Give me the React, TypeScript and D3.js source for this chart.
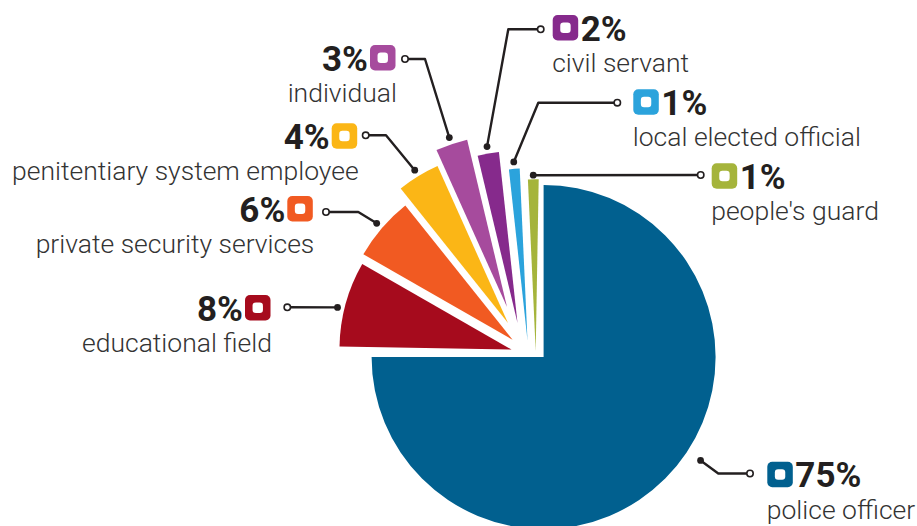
import { useEffect, useRef } from 'react';
import * as d3 from 'd3';

const categories = [
  'police officer',
  'educational field',
  'private security services',
  'penitentiary system employee',
  'individual',
  'civil servant',
  'local elected official',
  "people's guard",
];
const shares = [75, 8, 6, 4, 3, 2, 1, 1];
const colors = ['#01608f', '#a60b1d', '#f15a22', '#fbb616', '#a64b9d', '#862a8c', '#2ba3dc', '#a5b43b'];

// how far each wedge is pulled away from the pie centre (px)
const nudges: [number, number][] = [
  [0, 0],
  [-32.1, -7.5],
  [-31, -17.2],
  [-35.6, -34],
  [-36.6, -50],
  [-26.1, -34],
  [-16.1, -16.6],
  [-7.9, -5.8],
];

// label placement: marker box (mx,my), open circle (cx,cy), optional elbow, leader dot along wedge
interface LabelPos {
  side: 'left' | 'right';
  mx: number;
  my: number;
  cx: number;
  cy: number;
  elbow?: [number, number];
  at: number;
  dotR: number;
}
const labelPos: LabelPos[] = [
  { side: 'right', mx: 767.3, my: 461.7, cx: 750, cy: 473.5, elbow: [718.3, 473.5], at: 0.457, dotR: 188 },
  { side: 'left', mx: 245, my: 295, cx: 287.3, cy: 307.3, at: 0.4375, dotR: 179 },
  { side: 'left', mx: 287.3, my: 196, cx: 326, cy: 212, elbow: [358.3, 212], at: 0.5, dotR: 179 },
  { side: 'left', mx: 331.7, my: 123.3, cx: 365.7, cy: 135.3, elbow: [386, 135.3], at: 0.5, dotR: 179 },
  { side: 'left', mx: 370, my: 45, cx: 405, cy: 59, elbow: [425, 59], at: 0.5, dotR: 179 },
  { side: 'right', mx: 552.7, my: 15, cx: 540.7, cy: 29.3, elbow: [508.3, 29.3], at: 0.5, dotR: 179 },
  { side: 'right', mx: 633.3, my: 89.3, cx: 617.3, cy: 102.7, elbow: [538.3, 102.7], at: 0.5, dotR: 179 },
  { side: 'right', mx: 711.7, my: 163.3, cx: 700.7, cy: 175, at: 0.5, dotR: 176 },
];

const WIDTH = 917;
const HEIGHT = 526;

export default function App() {
  const svgRef = useRef<SVGSVGElement>(null);

  useEffect(() => {
    if (!svgRef.current) return;
    const svg = d3.select(svgRef.current);
    svg.selectAll('*').remove();

    const center = { x: 543.6, y: 357 };
    const bigR = 172;
    const smallR = 172;
    const tilt = (1 * Math.PI) / 180; // small wedges are turned a hair clockwise

    const data = categories.map((c, i) => ({ name: c, value: shares[i], color: colors[i] }));
    const pie = d3
      .pie<typeof data[0]>()
      .sort(null)
      .value(d => d.value)
      .startAngle(0)
      .endAngle(Math.PI * 2);
    const arcs = pie(data).map((a, i) => {
      const t = i === 0 ? 0 : tilt;
      return { ...a, startAngle: a.startAngle + t, endAngle: a.endAngle + t };
    });

    const arcGen = d3.arc<any>().innerRadius(0);

    const g = svg.append('g');

    arcs.forEach((a, i) => {
      const ox = center.x + nudges[i][0];
      const oy = center.y + nudges[i][1];
      g.append('path')
        .attr('transform', `translate(${ox},${oy})`)
        .attr('d', arcGen.outerRadius(i === 0 ? bigR : smallR)(a) as string)
        .attr('fill', a.data.color);
    });

    // leaders + labels
    const ink = '#231f20';
    arcs.forEach((a, i) => {
      const lp = labelPos[i];
      const ox = center.x + nudges[i][0];
      const oy = center.y + nudges[i][1];
      const ang = a.startAngle + (a.endAngle - a.startAngle) * lp.at;
      const dot: [number, number] = [ox + lp.dotR * Math.sin(ang), oy - lp.dotR * Math.cos(ang)];
      const pts: [number, number][] = [dot];
      if (lp.elbow) pts.push(lp.elbow);
      pts.push([lp.cx, lp.cy]);

      g.append('path')
        .attr('d', d3.line()(pts) as string)
        .attr('fill', 'none')
        .attr('stroke', ink)
        .attr('stroke-width', 2.4)
        .attr('stroke-linejoin', 'round');
      g.append('circle').attr('cx', dot[0]).attr('cy', dot[1]).attr('r', 3.4).attr('fill', ink);
      g.append('circle')
        .attr('cx', lp.cx)
        .attr('cy', lp.cy)
        .attr('r', 3.2)
        .attr('fill', '#fff')
        .attr('stroke', ink)
        .attr('stroke-width', 1.6);

      const box = 25.5;
      g.append('rect')
        .attr('x', lp.mx)
        .attr('y', lp.my)
        .attr('width', box)
        .attr('height', box)
        .attr('rx', 5)
        .attr('fill', a.data.color);
      g.append('rect')
        .attr('x', lp.mx + box / 2 - 5.2)
        .attr('y', lp.my + box / 2 - 5.2)
        .attr('width', 10.4)
        .attr('height', 10.4)
        .attr('rx', 3.2)
        .attr('fill', '#fff');

      const left = lp.side === 'left';
      g.append('text')
        .attr('x', left ? lp.mx - 2 : lp.mx + box + 2.5)
        .attr('y', lp.my + box)
        .attr('text-anchor', left ? 'end' : 'start')
        .attr('font-family', 'Roboto, sans-serif')
        .attr('font-weight', 700)
        .attr('font-size', 35)
        .attr('fill', ink)
        .text(`${a.data.value}%`);
      g.append('text')
        .attr('x', left ? lp.mx + box + 1.5 : lp.mx - 0.5)
        .attr('y', lp.my + 57)
        .attr('text-anchor', left ? 'end' : 'start')
        .attr('font-family', 'Roboto, sans-serif')
        .attr('font-weight', 300)
        .attr('font-size', 26.5)
        .attr('fill', '#333')
        .text(a.data.name);
    });
  }, []);

  return (
    <div style={{ position: 'absolute', left: 0, top: 0 }}>
      <svg ref={svgRef} width={WIDTH} height={HEIGHT} style={{ display: 'block', background: '#fff' }}></svg>
    </div>
  );
}
